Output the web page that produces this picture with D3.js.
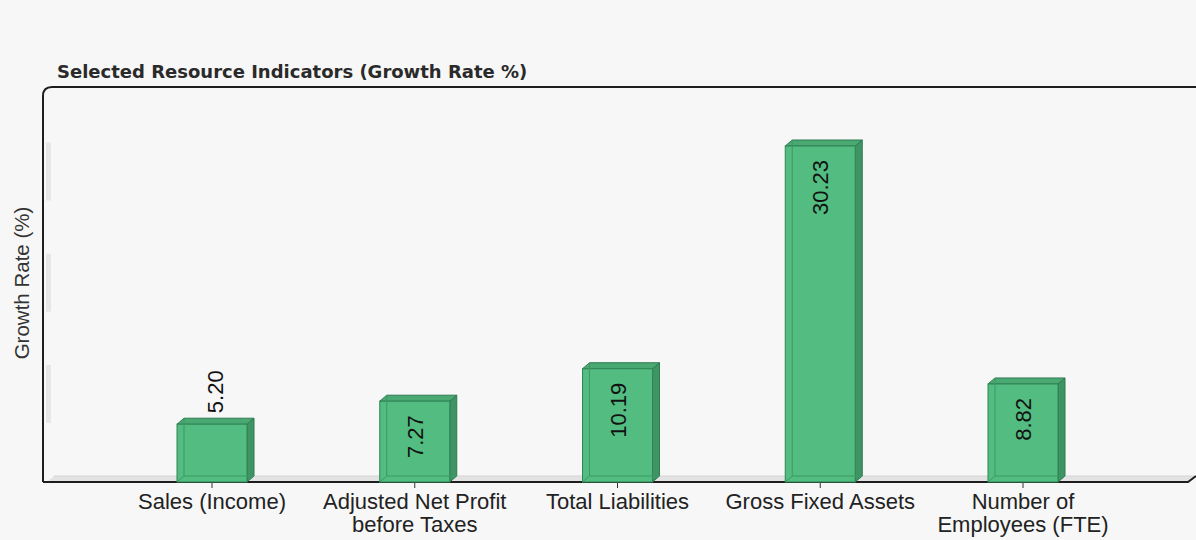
<!DOCTYPE html>
<html>
<head>
<meta charset="utf-8">
<script src="https://cdn.jsdelivr.net/npm/d3@7/dist/d3.min.js"></script>
<style>
  html, body { margin: 0; padding: 0; background: #f7f7f7; }
  svg { display: block; }
</style>
</head>
<body>
<svg id="chart" width="1196" height="540"></svg>
<script>
// Growth rates of selected resource indicators
const categories = [
  ["Sales (Income)"],
  ["Adjusted Net Profit", "before Taxes"],
  ["Total Liabilities"],
  ["Gross Fixed Assets"],
  ["Number of", "Employees (FTE)"]
];
const values = [5.20, 7.27, 10.19, 30.23, 8.82];
const valueLabels = ["5.20", "7.27", "10.19", "30.23", "8.82"];
const gridValues = [10, 20, 30];

(function drawChart() {
  const svg = d3.select("#chart");
  const W = 1196, H = 540;
  const plotLeft = 43, plotTop = 87, plotBottom = 482, plotRight = 1188;
  const depth = { dx: 7, dy: -6 };
  const barW = 70;

  svg.append("rect").attr("width", W).attr("height", H).attr("fill", "#f7f7f7");

  const x = d3.scalePoint()
    .domain(d3.range(categories.length))
    .range([212, 1023]);

  const y = d3.scaleLinear()
    .domain([0, 35])
    .range([plotBottom, 93]);

  // Title
  svg.append("text")
    .attr("x", 57).attr("y", 78)
    .attr("font-family", "DejaVu Sans, Verdana, sans-serif")
    .attr("font-weight", "bold")
    .attr("font-size", 18)
    .attr("fill", "#2a2a2a")
    .text("Selected Resource Indicators (Growth Rate %)");

  // Floor band (3D depth of the base)
  svg.append("path")
    .attr("d", `M${plotLeft + 4},${plotBottom} L${plotLeft + 4 + depth.dx},${plotBottom + depth.dy} L${plotRight + depth.dx},${plotBottom + depth.dy} L${plotRight},${plotBottom} Z`)
    .attr("fill", "#e3e3e3");
  svg.append("line")
    .attr("x1", plotLeft + 4 + depth.dx).attr("x2", plotRight + depth.dx)
    .attr("y1", plotBottom + depth.dy).attr("y2", plotBottom + depth.dy)
    .attr("stroke", "#d4d4d4").attr("stroke-width", 1);

  // Faint gridline stubs on the side wall
  svg.append("g").selectAll("rect")
    .data(gridValues)
    .join("rect")
    .attr("x", plotLeft + 3)
    .attr("y", d => y(d) + depth.dy)
    .attr("width", 5)
    .attr("height", 58)
    .attr("fill", "#e6e6e6");

  // Frame
  svg.append("path")
    .attr("d", `M${plotLeft},${plotBottom} L${plotLeft},${plotTop + 9} Q${plotLeft},${plotTop} ${plotLeft + 9},${plotTop} L${W + 2},${plotTop}`)
    .attr("fill", "none").attr("stroke", "#1e1e1e").attr("stroke-width", 2);
  svg.append("path")
    .attr("d", `M${plotLeft},${plotBottom} L${plotRight},${plotBottom} L${plotRight + depth.dx + 1},${plotBottom + depth.dy}`)
    .attr("fill", "none").attr("stroke", "#1e1e1e").attr("stroke-width", 2);

  // Category ticks
  svg.append("g").selectAll("line")
    .data(categories)
    .join("line")
    .attr("x1", (d, i) => x(i)).attr("x2", (d, i) => x(i))
    .attr("y1", plotBottom).attr("y2", plotBottom + 6)
    .attr("stroke", "#333").attr("stroke-width", 1);

  // Bars
  const bars = svg.append("g").selectAll("g")
    .data(values)
    .join("g");

  bars.each(function(v, i) {
    const g = d3.select(this);
    const x0 = x(i) - barW / 2, x1 = x(i) + barW / 2;
    const yt = y(v), yb = y(0);
    const dx = depth.dx, dy = depth.dy;
    // right side face
    g.append("path")
      .attr("d", `M${x1},${yt} L${x1 + dx},${yt + dy} L${x1 + dx},${yb + dy} L${x1},${yb} Z`)
      .attr("fill", "#3f9463").attr("stroke", "#2f7a50").attr("stroke-width", 1);
    // top face
    g.append("path")
      .attr("d", `M${x0},${yt} L${x0 + dx},${yt + dy} L${x1 + dx},${yt + dy} L${x1},${yt} Z`)
      .attr("fill", "#4aa873").attr("stroke", "#2f7a50").attr("stroke-width", 1);
    // front face
    g.append("rect")
      .attr("x", x0).attr("y", yt)
      .attr("width", barW).attr("height", yb - yt)
      .attr("fill", "#53bc81").attr("stroke", "#2f8554").attr("stroke-width", 1);
    // back edges seen through the front
    g.append("path")
      .attr("d", `M${x0 + dx},${yt + dy} L${x0 + dx},${yb + dy} L${x1 + dx},${yb + dy}`)
      .attr("fill", "none").attr("stroke", "#3a9a63").attr("stroke-width", 1);
    g.append("line")
      .attr("x1", x0).attr("y1", yb).attr("x2", x0 + dx).attr("y2", yb + dy)
      .attr("stroke", "#3a9a63").attr("stroke-width", 1);

    // value label, rotated
    const t = g.append("text")
      .attr("font-family", "Liberation Sans, Arial, sans-serif")
      .attr("font-size", 22)
      .attr("fill", "#111")
      .text(valueLabels[i]);
    const len = t.node().getComputedTextLength();
    const cx = x(i) + 8;
    if (yb - yt > len + 22) {
      t.attr("text-anchor", "end")
        .attr("transform", `translate(${cx},${yt + 14}) rotate(-90)`);
    } else {
      t.attr("text-anchor", "start")
        .attr("transform", `translate(${cx + 3},${yt - 11}) rotate(-90)`);
    }
  });

  // Category labels
  const labels = svg.append("g").selectAll("text")
    .data(categories)
    .join("text")
    .attr("x", (d, i) => x(i))
    .attr("y", 509)
    .attr("text-anchor", "middle")
    .attr("font-family", "Liberation Sans, Arial, sans-serif")
    .attr("font-size", 22)
    .attr("fill", "#222");
  labels.selectAll("tspan")
    .data(d => d)
    .join("tspan")
    .attr("x", function() { return d3.select(this.parentNode).attr("x"); })
    .attr("dy", (d, j) => j === 0 ? 0 : 23)
    .text(d => d);

  // Y axis title
  svg.append("text")
    .attr("transform", `translate(29,283) rotate(-90)`)
    .attr("text-anchor", "middle")
    .attr("font-family", "Liberation Sans, Arial, sans-serif")
    .attr("font-size", 20.5)
    .attr("fill", "#333")
    .text("Growth Rate (%)");
})();
</script>
</body>
</html>
